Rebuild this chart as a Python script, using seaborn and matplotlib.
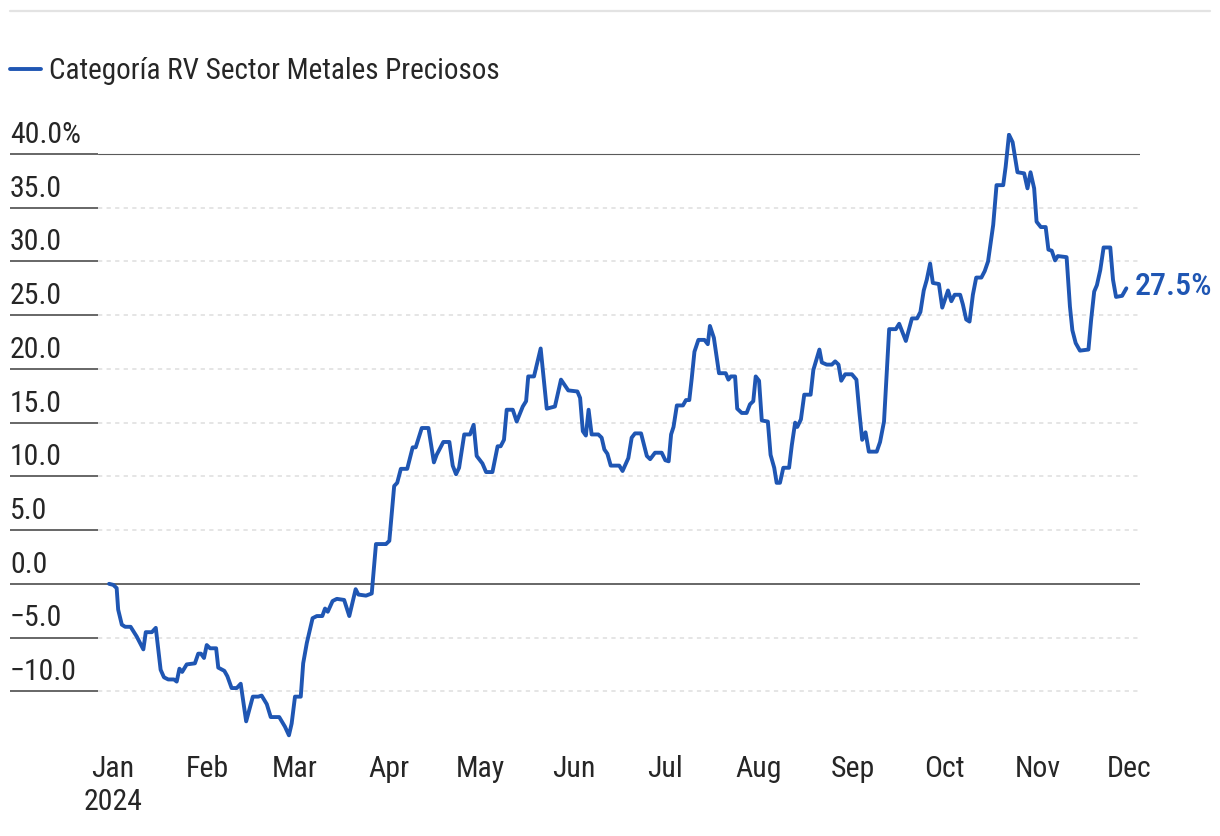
import matplotlib
matplotlib.use("Agg")
import matplotlib.pyplot as plt
import matplotlib.transforms as mtransforms
import numpy as np
import pandas as pd
import seaborn as sns

## datos (dias desde 1 ene 2024, rentabilidad acumulada %)

dias = [-1.3, 0.1, 1.2, 1.7, 2.9, 4.0, 5.8, 7.8, 10.0, 10.8, 12.8, 14.1, 15.7, 16.8,
        18.2, 20.1, 21.0, 21.9, 22.8, 24.3, 27.0, 28.1, 29.0, 30.0, 30.9, 32.0, 34.0,
        34.7, 36.7, 37.7, 39.1, 40.8, 42.1, 43.9, 46.1, 47.9, 49.0, 50.7, 52.0, 54.8,
        56.7, 58.0, 58.9, 60.0, 61.9, 62.7, 63.9, 65.8, 67.2, 69.0, 69.9, 70.8, 72.4,
        73.8, 76.2, 77.9, 80.0, 80.9, 83.4, 85.3, 86.7, 90.0, 91.1, 92.1, 92.7, 93.7,
        94.9, 97.0, 98.8, 99.8, 101.8, 104.0, 105.8, 106.7, 108.9, 110.9, 112.0, 113.1,
        114.1, 115.8, 117.7, 118.9, 119.9, 121.8, 123.0, 125.1, 126.8, 127.8, 128.9,
        129.8, 131.8, 133.1, 135.1, 136.2, 136.9, 138.8, 141.0, 143.0, 145.7, 147.7,
        150.1, 153.1, 154.0, 154.9, 155.9, 156.8, 157.8, 160.0, 161.1, 162.0, 163.0,
        164.1, 166.9, 168.0, 169.9, 171.0, 172.1, 174.1, 176.0, 177.1, 178.7, 180.9,
        182.1, 183.2, 184.0, 184.8, 185.9, 187.9, 188.9, 190.0, 190.8, 191.7, 193.0,
        195.0, 196.1, 196.8, 198.1, 199.8, 202.0, 202.9, 203.7, 205.1, 205.8, 207.3,
        208.9, 210.0, 211.1, 211.9, 213.0, 213.9, 215.9, 216.8, 218.0, 218.8, 219.9,
        221.0, 222.9, 223.8, 224.9, 225.6, 226.8, 227.9, 230.0, 230.9, 232.9, 233.7,
        235.3, 237.0, 238.1, 239.2, 240.1, 241.4, 243.6, 245.1, 246.1, 247.0, 248.1,
        249.2, 251.8, 252.9, 254.2, 255.9, 258.1, 259.2, 261.4, 263.4, 265.1, 266.2,
        267.3, 268.3, 269.4, 270.3, 272.3, 273.4, 275.3, 276.4, 277.5, 279.3, 280.2,
        281.3, 282.4, 283.5, 284.6, 286.3, 287.4, 288.5, 290.2, 291.3, 293.5, 294.3,
        295.4, 296.6, 298.2, 300.4, 301.5, 302.5, 303.7, 304.5, 305.9, 307.5, 308.4,
        309.5, 310.6, 311.5, 314.4, 315.5, 316.3, 317.4, 318.8, 321.6, 322.5, 323.5,
        324.4, 325.5, 326.6, 328.8, 329.7, 330.7, 332.7, 334.1]

rentabilidad = [0.0, -0.1, -0.4, -2.4, -3.8, -4.0, -4.0, -4.9, -6.1, -4.5, -4.5, -4.1, -8.0, -8.7,
                -8.9, -8.9, -9.1, -7.9, -8.2, -7.5, -7.4, -6.5, -6.5, -6.9, -5.7, -6.0, -6.0,
                -7.8, -8.1, -8.6, -9.7, -9.7, -9.3, -12.8, -10.5, -10.5, -10.4, -11.2, -12.4, -12.4,
                -13.3, -14.1, -13.0, -10.5, -10.5, -7.4, -5.5, -3.2, -3.0, -3.0, -2.3, -2.6, -1.6,
                -1.4, -1.5, -3.0, -0.5, -1.0, -1.1, -0.9, 3.7, 3.7, 4.0, 7.2, 9.1, 9.4,
                10.7, 10.7, 12.7, 12.7, 14.5, 14.5, 11.3, 12.0, 13.2, 13.2, 11.0, 10.2,
                10.8, 13.9, 13.9, 14.8, 11.9, 11.2, 10.4, 10.4, 12.8, 12.8, 13.4,
                16.2, 16.2, 15.1, 16.5, 17.0, 19.3, 19.3, 21.9, 16.3, 16.5, 19.0,
                18.0, 17.9, 17.3, 14.2, 13.8, 16.2, 13.9, 13.9, 13.6, 12.5, 12.1,
                11.0, 11.0, 10.5, 11.7, 13.6, 14.0, 14.0, 11.9, 11.6, 12.2, 12.2,
                11.5, 11.4, 13.9, 14.6, 16.6, 16.6, 17.1, 17.1, 19.1, 21.6, 22.7,
                22.7, 22.3, 24.0, 22.9, 19.6, 19.6, 19.0, 19.3, 19.3, 16.3, 15.9,
                15.9, 16.7, 17.0, 19.3, 18.9, 15.2, 15.1, 12.0, 10.8, 9.4, 9.4,
                10.8, 10.8, 12.9, 15.0, 14.6, 15.3, 17.6, 17.6, 19.9, 21.8, 20.6,
                20.4, 20.4, 20.7, 20.4, 18.9, 19.5, 19.5, 19.0, 15.9, 13.4, 14.1,
                12.3, 12.3, 13.2, 15.1, 23.7, 23.7, 24.2, 22.6, 24.7, 24.7, 25.3,
                27.3, 28.3, 29.8, 28.0, 27.9, 25.7, 27.3, 26.3, 26.9, 26.9, 26.0,
                24.6, 24.4, 26.9, 28.5, 28.5, 29.1, 30.0, 33.4, 37.1, 37.1, 38.8,
                41.8, 41.1, 38.3, 38.2, 36.8, 38.3, 36.8, 33.7, 33.2, 33.2, 31.1,
                31.0, 30.1, 30.5, 30.4, 25.8, 23.6, 22.4, 21.7, 21.8, 24.6, 27.2,
                27.8, 29.2, 31.3, 31.3, 28.3, 26.7, 26.8, 27.5]

serie = "Categoría RV Sector Metales Preciosos"
meses = ["Jan\n2024", "Feb", "Mar", "Apr", "May", "Jun", "Jul", "Aug", "Sep", "Oct", "Nov", "Dec"]
yticks = [-10, -5, 0, 5, 10, 15, 20, 25, 30, 35, 40]
ylabels = ["\u221210.0", "\u22125.0", "0.0", "5.0", "10.0", "15.0", "20.0", "25.0", "30.0", "35.0", "40.0%"]

azul = "#1f56b3"
gris_txt = "#262626"
gris_eje = "#5a5a5a"

sns.set_theme(style="white")
plt.rcParams["font.family"] = ["Roboto Condensed", "DejaVu Sans"]

inicio = pd.Timestamp("2024-01-01")
df = pd.DataFrame({"fecha": inicio + pd.to_timedelta(dias, unit="D"), "valor": rentabilidad})

W, H = 1220, 836
fig = plt.figure(figsize=(W / 100, H / 100), dpi=100)
# eje: x de 98 a 1140 px, y de 132.5 a 745 px
ax = fig.add_axes([98 / W, 1 - 745 / H, (1140 - 98) / W, (745 - 132.5) / H])

sns.lineplot(data=df, x="fecha", y="valor", ax=ax, color=azul, linewidth=2.8, label=serie)

ax.set_xlim(inicio + pd.Timedelta(days=-4.95), inicio + pd.Timedelta(days=338.6))
ax.set_ylim(-15, 42)

for s in ax.spines.values():
    s.set_visible(False)

# lineas horizontales
for v in yticks:
    if v == 0:
        ax.axhline(v, color=gris_eje, lw=1.3, zorder=1)
    elif v == 40:
        ax.axhline(v, color=gris_eje, lw=0.8, zorder=1)
    else:
        ax.axhline(v, color="#dedede", lw=1.1, ls=(0, (2.8, 2.8)), zorder=1)

ax.set_yticks(yticks)
ax.tick_params(axis="y", left=True, length=63.4, width=1.3, color=gris_eje, direction="out", labelleft=False)
trans = mtransforms.offset_copy(ax.get_yaxis_transform(), fig=fig, x=0, y=8, units="points")
for v, t in zip(yticks, ylabels):
    ax.text(-88 / (1140 - 98), v, t, transform=trans, ha="left", va="baseline",
            fontsize=21.5, color=gris_txt)

ax.set_xticks(pd.date_range("2024-01-01", periods=12, freq="MS"))
ax.set_xticklabels(meses, fontsize=21.5, color=gris_txt, linespacing=1.25, va="top")
ax.tick_params(axis="x", length=0, pad=7)
ax.set_xlabel("")
ax.set_ylabel("")

# etiqueta del ultimo valor
ax.annotate(f"{rentabilidad[-1]:.1f}%", xy=(df["fecha"].iloc[-1], rentabilidad[-1]),
            xytext=(6, 1), textcoords="offset points", ha="left", va="center",
            fontsize=23, fontweight="medium", color=azul, annotation_clip=False)

# leyenda arriba a la izquierda
leg = ax.legend(loc="center left", bbox_to_anchor=(10 / W, 1 - 71 / H),
                bbox_transform=fig.transFigure, frameon=False, fontsize=21,
                handlelength=1.05, handletextpad=0.3, borderpad=0, borderaxespad=0)
for t in leg.get_texts():
    t.set_color(gris_txt)

# linea gris superior
fig.add_artist(plt.Line2D([10 / W, 1210 / W], [1 - 11 / H, 1 - 11 / H],
                          transform=fig.transFigure, color="#e3e3e3", lw=1.6))

fig.savefig("out.png", dpi=100)
